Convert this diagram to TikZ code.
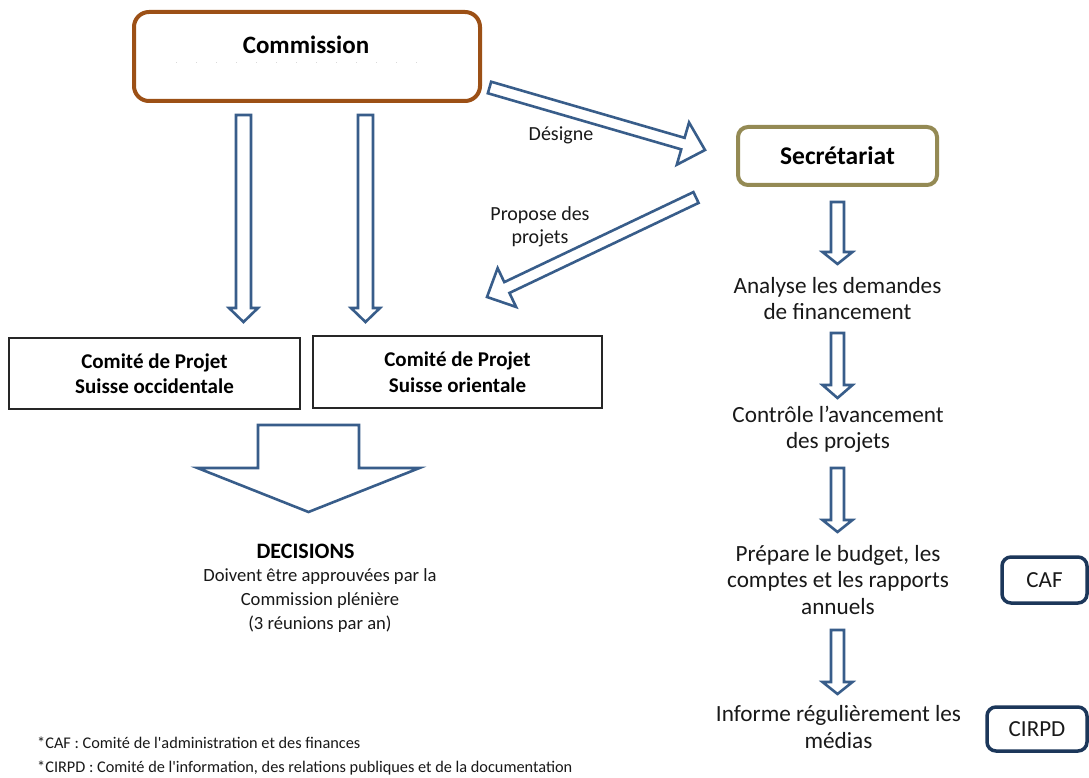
\documentclass[tikz,border=0pt]{standalone}
\usepackage{fontspec}
\setmainfont{Carlito}
\usetikzlibrary{calc}
\definecolor{arrowblue}{RGB}{56,93,138}
\definecolor{combrown}{RGB}{156,80,22}
\definecolor{secolive}{RGB}{148,138,84}
\definecolor{cafnavy}{RGB}{28,55,90}
\definecolor{txt}{RGB}{25,25,25}
\newcommand{\fs}[2]{\fontsize{#1}{#2}\selectfont}
% block arrow: tail, tip, shaft half width, head half width, head length
\newcommand{\blockarr}[5]{%
  \coordinate (ba-s) at ($(#2)!#5!(#1)$);
  \draw[blockarrow] ($(#1)!#3!90:(#2)$) -- ($(ba-s)!#3!90:(#2)$) -- ($(ba-s)!#4!90:(#2)$) -- (#2)
     -- ($(ba-s)!#4!-90:(#2)$) -- ($(ba-s)!#3!-90:(#2)$) -- ($(#1)!#3!-90:(#2)$) -- cycle;
}
\tikzset{
  blockarrow/.style={draw=arrowblue, line width=2.6pt, line join=miter, fill=white},
  combox/.style={draw=combrown, line width=4pt, rounded corners=15pt, minimum width=346pt, minimum height=89pt, inner sep=0pt},
  secbox/.style={draw=secolive, line width=4pt, rounded corners=10pt, minimum width=199pt, minimum height=58pt, inner sep=0pt, font=\fs{25.5}{29}\bfseries, text=black},
  smallbox/.style={draw=cafnavy, line width=3.5pt, rounded corners=9pt, inner sep=0pt, font=\fs{23}{27}, text=txt},
  cbox/.style={draw=black!85, line width=1.1pt, inner sep=0pt, align=center, font=\fs{21}{25.5}\bfseries, text=black},
  rtext/.style={align=center, inner sep=0pt, font=\fs{23.2}{26.5}, text=txt},
  ltext/.style={align=center, inner sep=0pt, font=\fs{20}{23}, text=txt},
  foot/.style={anchor=west, inner sep=0pt, font=\fs{16.3}{19}, text=txt}
}
\begin{document}
\begin{tikzpicture}[x=1pt,y=-1pt]
\useasboundingbox[fill=white] (0,0) rectangle (1089,778);

% Commission
\node[combox] (com) at (307,56.5) {};
\node[inner sep=0pt, font=\fs{25}{29}\bfseries] (comt) at (306,45) {Commission};
\draw[black!15, line width=0.8pt, dash pattern=on 1pt off 19pt] (176,62) -- (436,62);

% Secretariat
\node[secbox] (sec) at (837.5,156) {Secrétariat};

% Committees
\node[cbox, minimum width=291pt, minimum height=71pt] (cpo) at (154.5,373.5) {Comité de Projet\\Suisse occidentale};
\node[cbox, minimum width=289pt, minimum height=72pt] (cpe) at (457.5,372) {Comité de Projet\\Suisse orientale};

% Labels
\node[ltext] (des) at (561,135) {Désigne};
\node[ltext] (prop) at (540,226.5) {Propose des\\projets};

% Right column
\node[rtext] (ana) at (837.5,298.5) {Analyse les demandes\\de financement};
\node[rtext] (ctl) at (838,429.5) {Contrôle l’avancement\\des projets};
\node[rtext] (prep) at (838,580) {Prépare le budget, les\\comptes et les rapports\\annuels};
\node[rtext] (inf) at (838.5,727) {Informe régulièrement les\\médias};

\node[smallbox, minimum width=85pt, minimum height=46pt] (caf) at (1044.5,580) {CAF};
\node[smallbox, minimum width=100pt, minimum height=44pt] (cirpd) at (1037,729) {CIRPD};

% Decisions
\node[inner sep=0pt, font=\fs{22}{26}\bfseries, text=black] (dec) at (305.5,551) {DECISIONS};
\node[align=center, inner sep=0pt, font=\fs{18.6}{24}, text=txt] (dect) at (320,601) {Doivent être approuvées par la\\Commission plénière\\(3 réunions par an)};

% Footnotes
\node[foot] (f1) at (37,743) {*CAF : Comité de l\textquotesingle administration et des finances};
\node[foot] (f2) at (37,768.5) {*CIRPD : Comité de l\textquotesingle information, des relations publiques et de la documentation};

% Arrow end points
\coordinate (a1t) at (243.5,115); \coordinate (a1h) at (243.5,322);
\coordinate (a2t) at (365.5,115); \coordinate (a2h) at (365.5,322);
\coordinate (d1t) at (489.5,87.5); \coordinate (d1h) at (705,150);
\coordinate (d2t) at (696,197.5); \coordinate (d2h) at (487,297);
\coordinate (bt) at (308.5,425); \coordinate (bh) at (308.5,512);
\coordinate (r1t) at (837.5,202); \coordinate (r1h) at (837.5,264);
\coordinate (r2t) at (837.5,333); \coordinate (r2h) at (837.5,398);
\coordinate (r3t) at (837.5,468); \coordinate (r3h) at (837.5,532);
\coordinate (r4t) at (837.5,630); \coordinate (r4h) at (837.5,694);

\blockarr{a1t}{a1h}{7.5pt}{14.5pt}{14pt}
\blockarr{a2t}{a2h}{7.5pt}{14.5pt}{14pt}
\blockarr{d1t}{d1h}{6pt}{22pt}{23pt}
\blockarr{d2t}{d2h}{6pt}{21.5pt}{22pt}
\blockarr{bt}{bh}{50.5pt}{111pt}{44pt}
\blockarr{r1t}{r1h}{6.5pt}{15pt}{12pt}
\blockarr{r2t}{r2h}{6.5pt}{15pt}{13pt}
\blockarr{r3t}{r3h}{6.5pt}{15pt}{12pt}
\blockarr{r4t}{r4h}{6.5pt}{15pt}{12pt}
\end{tikzpicture}
\end{document}
